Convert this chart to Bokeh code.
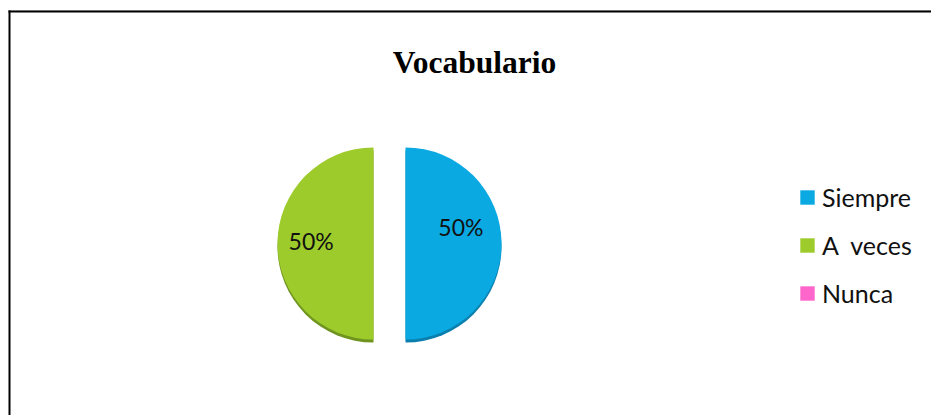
import math
from bokeh.plotting import figure
from bokeh.models import ColumnDataSource, Legend, LegendItem, Label
from bokeh.embed import file_html
from bokeh.resources import INLINE
from bokeh.core.properties import value

# ---- data ----
title_text = "Vocabulario"
categories = ["Siempre", "A  veces", "Nunca"]
values = [50, 50, 0]
colors = ["#0BA9E2", "#9DCB2B", "#FF66CC"]
shadow_colors = ["#0A7FAE", "#6F9420", "#C04C99"]
label_nudge = [(-7, 17), (0, 3), (0, 0)]   # label nudges (px)

# ---- layout constants ----
W, H = 931, 415
cx, cy, R = 389, 172, 96
explode = 16

p = figure(width=W, height=H, x_range=(0, W), y_range=(0, H),
           x_axis_type=None, y_axis_type=None, output_backend="svg",
           toolbar_location=None, min_border=0, outline_line_color=None)
p.grid.visible = False
p.background_fill_color = "white"

# chart-area frame (left and top edges visible)
p.segment(x0=[8, 9], y0=[405, 0], x1=[W, 9], y1=[405, 404],
          line_color="#DDDDDD", line_width=1)
p.segment(x0=[8, 9], y0=[404, 0], x1=[W, 9], y1=[404, 405],
          line_color="black", line_width=2)

total = float(sum(values))
starts, ends, xs, ys, radii, lx, ly, texts = [], [], [], [], [], [], [], []
cum = 0.0
for v, (dx, dy) in zip(values, label_nudge):
    a0 = 90 - 360 * (cum + v) / total
    a1 = 90 - 360 * cum / total
    mid = math.radians((a0 + a1) / 2)
    cum += v
    starts.append(math.radians(a0))
    ends.append(math.radians(a1))
    x = cx + explode * math.cos(mid)
    y = cy + explode * math.sin(mid)
    xs.append(x)
    ys.append(y)
    radii.append(R if v > 0 else 0)
    lx.append(x + 0.65 * R * math.cos(mid) + dx)
    ly.append(y + 0.65 * R * math.sin(mid) + dy)
    texts.append(f"{round(100 * v / total)}%")

src = ColumnDataSource(dict(x=xs, y=ys, sy=[y - 3 for y in ys], r=radii,
                            start=starts, end=ends, color=colors,
                            shadow=shadow_colors, cat=categories))

p.wedge(x="x", y="sy", radius="r", start_angle="start", end_angle="end",
        fill_color="shadow", line_color=None, source=src)
pie = p.wedge(x="x", y="y", radius="r", start_angle="start", end_angle="end",
              fill_color="color", line_color=None, source=src)

keep = [i for i in range(len(values)) if values[i] > 0]
lab_src = ColumnDataSource(dict(x=[lx[i] for i in keep],
                                y=[ly[i] for i in keep],
                                t=[texts[i] for i in keep]))
p.text(x="x", y="y", text="t", source=lab_src, text_font=value("Lato"),
       text_font_size="23px", text_align="center", text_baseline="middle",
       text_color="#111111")

legend = Legend(items=[LegendItem(label=c, renderers=[pie], index=i)
                       for i, c in enumerate(categories)],
                location=(798, 107), orientation="vertical",
                border_line_color=None, background_fill_alpha=0,
                padding=0, margin=0, spacing=18,
                glyph_width=18, glyph_height=18, label_height=30,
                label_standoff=6, label_text_font="Lato",
                label_text_font_size="25px", label_text_color="#111111")
p.add_layout(legend)

p.add_layout(Label(x=474, y=353, text=title_text, text_font="Liberation Serif",
                   text_font_style="bold", text_font_size="31.5px",
                   text_color="black",
                   text_align="center", text_baseline="alphabetic"))

open("out.html", "w").write(file_html(p, INLINE))
